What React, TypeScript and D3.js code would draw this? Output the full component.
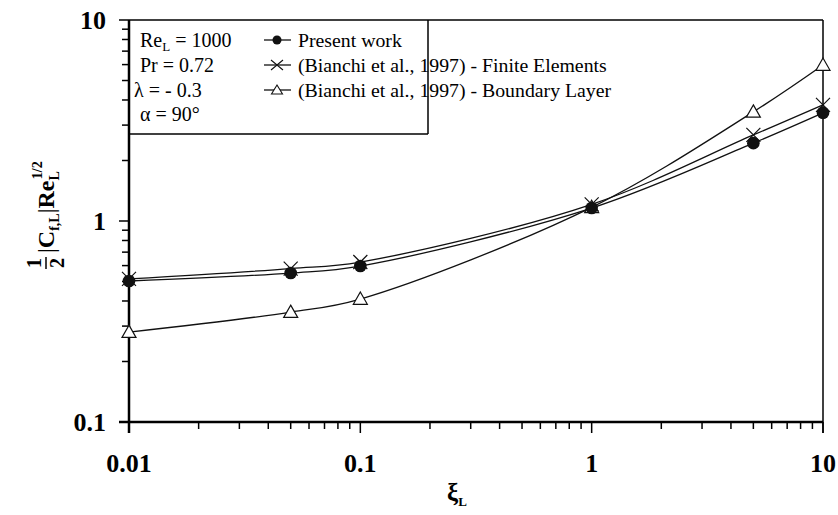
import React, { useRef, useEffect } from "react";
import * as d3 from "d3";

// chart values
const xi = [0.01, 0.05, 0.1, 1, 5, 10];
const presentWork = [0.503, 0.551, 0.597, 1.16, 2.44, 3.45];
const finiteElements = [0.515, 0.58, 0.625, 1.21, 2.68, 3.78];
const boundaryLayer = [0.28, 0.352, 0.409, 1.17, 3.49, 5.97];

const xTicks = [0.01, 0.1, 1, 10];
const xTickLabels = ["0.01", "0.1", "1", "10"];
const yTicks = [0.1, 1, 10];
const yTickLabels = ["0.1", "1", "10"];

const legendLabels = [
  "Present work",
  "(Bianchi et al., 1997) - Finite Elements",
  "(Bianchi et al., 1997) - Boundary Layer",
];

const serif = '"Times New Roman", Times, "Liberation Serif", Tinos, "DejaVu Serif", serif';

const App = () => {
  const svgRef = useRef<SVGSVGElement>(null);

  useEffect(() => {
    const width = 838;
    const height = 515;
    const margin = { top: 20, right: 15, bottom: 93, left: 129 };

    const svg = d3.select(svgRef.current);
    svg.selectAll("*").remove();
    svg.attr("width", width).attr("height", height).style("font-family", serif);

    const x = d3
      .scaleLog()
      .domain([0.01, 10])
      .range([margin.left, width - margin.right]);
    const y = d3
      .scaleLog()
      .domain([0.1, 10])
      .range([height - margin.bottom, margin.top]);

    const x0 = margin.left;
    const x1 = width - margin.right;
    const y0 = height - margin.bottom;
    const y1 = margin.top;

    // minor ticks
    const minor = (lo: number, hi: number) => {
      const out: number[] = [];
      for (let d = lo; d < hi; d *= 10) {
        for (let k = 2; k <= 9; k++) out.push(d * k);
      }
      return out;
    };

    const g = svg.append("g");

    // x ticks (outward)
    minor(0.01, 10).forEach((v) => {
      g.append("line")
        .attr("x1", x(v)).attr("x2", x(v))
        .attr("y1", y0).attr("y2", y0 + 7)
        .attr("stroke", "#000").attr("stroke-width", 1.5);
    });
    xTicks.forEach((v, i) => {
      g.append("line")
        .attr("x1", x(v)).attr("x2", x(v))
        .attr("y1", y0).attr("y2", y0 + 11)
        .attr("stroke", "#000").attr("stroke-width", 1.5);
      g.append("text")
        .attr("x", x(v)).attr("y", 472)
        .attr("text-anchor", "middle")
        .attr("font-weight", "bold").attr("font-size", 26)
        .text(xTickLabels[i]);
    });

    // y ticks (outward)
    minor(0.1, 10).forEach((v) => {
      g.append("line")
        .attr("x1", x0 - 7).attr("x2", x0)
        .attr("y1", y(v)).attr("y2", y(v))
        .attr("stroke", "#000").attr("stroke-width", 1.5);
    });
    yTicks.forEach((v, i) => {
      g.append("line")
        .attr("x1", x0 - 10).attr("x2", x0)
        .attr("y1", y(v)).attr("y2", y(v))
        .attr("stroke", "#000").attr("stroke-width", 1.5);
      g.append("text")
        .attr("x", 106).attr("y", y(v)).attr("dy", "0.35em")
        .attr("text-anchor", "end")
        .attr("font-weight", "bold").attr("font-size", 26)
        .text(yTickLabels[i]);
    });

    // frame
    g.append("line").attr("x1", x0).attr("x2", x1).attr("y1", y1).attr("y2", y1)
      .attr("stroke", "#000").attr("stroke-width", 1.5);
    g.append("line").attr("x1", x1).attr("x2", x1).attr("y1", y1).attr("y2", y0 + 11)
      .attr("stroke", "#000").attr("stroke-width", 1.5);
    g.append("line").attr("x1", x0 - 10).attr("x2", x1).attr("y1", y0).attr("y2", y0)
      .attr("stroke", "#000").attr("stroke-width", 2.5);
    g.append("line").attr("x1", x0).attr("x2", x0).attr("y1", y1).attr("y2", y0 + 11)
      .attr("stroke", "#000").attr("stroke-width", 2.5);

    // legend box
    g.append("line").attr("x1", x0).attr("x2", 428).attr("y1", 134).attr("y2", 134)
      .attr("stroke", "#000").attr("stroke-width", 1.5);
    g.append("line").attr("x1", 428).attr("x2", 428).attr("y1", y1).attr("y2", 134)
      .attr("stroke", "#000").attr("stroke-width", 1.5);

    // curves
    const line = d3
      .line<number>()
      .x((_, i) => x(xi[i]))
      .y((d) => y(d))
      .curve(d3.curveCatmullRom.alpha(0.5));

    [presentWork, finiteElements, boundaryLayer].forEach((s) => {
      g.append("path")
        .datum(s)
        .attr("fill", "none")
        .attr("stroke", "#111")
        .attr("stroke-width", 1.3)
        .attr("d", line);
    });

    // markers
    const circle = (cx: number, cy: number) =>
      g.append("circle").attr("cx", cx).attr("cy", cy).attr("r", 6.3).attr("fill", "#111");
    const cross = (cx: number, cy: number) => {
      const s = 7;
      g.append("path")
        .attr("d", `M${cx - s},${cy - s}L${cx + s},${cy + s}M${cx - s},${cy + s}L${cx + s},${cy - s}`)
        .attr("stroke", "#111").attr("stroke-width", 1.2);
    };
    const tri = (cx: number, cy: number) => {
      const s = 7;
      g.append("path")
        .attr("d", `M${cx},${cy - s}L${cx + s},${cy + s * 0.75}L${cx - s},${cy + s * 0.75}Z`)
        .attr("fill", "#fff").attr("stroke", "#111").attr("stroke-width", 1.2);
    };

    boundaryLayer.forEach((v, i) => tri(x(xi[i]), y(v)));
    presentWork.forEach((v, i) => circle(x(xi[i]), y(v)));
    finiteElements.forEach((v, i) => cross(x(xi[i]), y(v)));

    // legend entries
    legendLabels.forEach((label, i) => {
      const base = 47 + i * 25;
      const ly = base - 7;
      g.append("line").attr("x1", 264).attr("x2", 291).attr("y1", ly).attr("y2", ly)
        .attr("stroke", "#111").attr("stroke-width", 1.3);
      if (i === 0) g.append("circle").attr("cx", 277).attr("cy", ly).attr("r", 4.5).attr("fill", "#111");
      else if (i === 1) {
        g.append("path")
          .attr("d", `M271,${ly - 5}L283,${ly + 5}M271,${ly + 5}L283,${ly - 5}`)
          .attr("stroke", "#111").attr("stroke-width", 1.1);
      } else {
        g.append("path")
          .attr("d", `M277,${ly - 5}L282.5,${ly + 4}L271.5,${ly + 4}Z`)
          .attr("fill", "#fff").attr("stroke", "#111").attr("stroke-width", 1.1);
      }
      g.append("text")
        .attr("x", 298).attr("y", base)
        .attr("font-size", 19.8)
        .text(label);
    });

    // parameter text
    const params = g.append("g").attr("font-size", 20);
    const re = params.append("text").attr("x", 140).attr("y", 47);
    re.append("tspan").text("Re");
    re.append("tspan").attr("dy", 4).attr("font-size", 13).text("L");
    re.append("tspan").attr("dy", -4).text(" = 1000");
    params.append("text").attr("x", 140).attr("y", 72).text("Pr = 0.72");
    params.append("text").attr("x", 134).attr("y", 97).text("λ  = - 0.3");
    params.append("text").attr("x", 140).attr("y", 121).text("α =  90°");

    // x axis title
    const xt = g.append("text").attr("x", 447).attr("y", 501)
      .attr("font-weight", "bold").attr("font-size", 25);
    xt.append("tspan").text("ξ");
    xt.append("tspan").attr("dy", 5).attr("font-size", 13).text("L");

    // y axis title (rotated)
    const yt = g.append("g").attr("transform", "translate(46,188) rotate(-90)")
      .attr("font-weight", "bold");
    yt.append("text").attr("x", -75).attr("y", -5).attr("text-anchor", "middle")
      .attr("font-size", 20).text("1");
    yt.append("line").attr("x1", -81).attr("x2", -69).attr("y1", 0).attr("y2", 0)
      .attr("stroke", "#000").attr("stroke-width", 1.5);
    yt.append("text").attr("x", -75).attr("y", 18).attr("text-anchor", "middle")
      .attr("font-size", 20).text("2");
    const main = yt.append("text").attr("x", -65).attr("y", 8).attr("font-size", 24);
    main.append("tspan").attr("font-weight", "normal").text("|");
    main.append("tspan").text("C");
    main.append("tspan").attr("dy", 5).attr("font-size", 14).text("f,L");
    main.append("tspan").attr("dy", -5).attr("font-weight", "normal").text("|");
    main.append("tspan").text("Re");
    main.append("tspan").attr("dy", 5).attr("font-size", 14).text("L");
    main.append("tspan").attr("dx", -8).attr("dy", -17).attr("font-size", 14).text("1/2");
  }, []);

  return <svg ref={svgRef} style={{ position: "absolute", left: 0, top: 0 }}></svg>;
};

export default App;
